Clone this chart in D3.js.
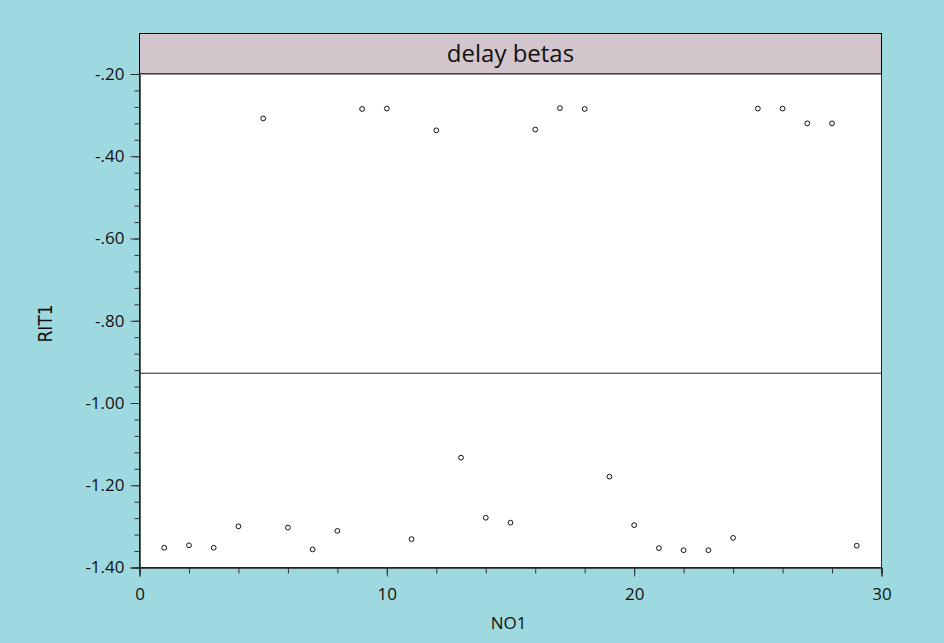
<!DOCTYPE html>
<html lang="en">
<head>
    <meta charset="UTF-8">
    <title>delay betas</title>
    <style>
        body { margin: 0; background: #9fd9e0; }
        svg { display: block; }
    </style>
</head>
<body>
    <div id="chart"></div>
    <script src="https://d3js.org/d3.v7.min.js"></script>
    <script>
        // NO1 values and RIT1 values
        var no1 = [1, 2, 3, 4, 5, 6, 7, 8, 9, 10, 11, 12, 13, 14, 15,
                   16, 17, 18, 19, 20, 21, 22, 23, 24, 25, 26, 27, 28, 29];
        var rit1 = [-1.352, -1.346, -1.352, -1.300, -0.308, -1.303, -1.356, -1.311, -0.285, -0.284,
                    -1.331, -0.337, -1.133, -1.279, -1.291, -0.335, -0.283, -0.285, -1.179, -1.297,
                    -1.353, -1.358, -1.358, -1.328, -0.284, -0.284, -0.320, -0.320, -1.347];
        var xTicks = [0, 10, 20, 30];
        var yTicks = [-0.2, -0.4, -0.6, -0.8, -1.0, -1.2, -1.4];
        var title = 'delay betas';

        var W = 944, H = 643;
        var plotL = 139.5, plotR = 881.5, plotT = 74, plotB = 567.5, headT = 33;

        var svg = d3.select('#chart').append('svg')
            .attr('width', W)
            .attr('height', H);

        svg.append('rect')
            .attr('width', W).attr('height', H)
            .attr('fill', '#9fd9e0');

        var x = d3.scaleLinear().domain([0, 30]).range([plotL, plotR]);
        var y = d3.scaleLinear().domain([-1.4, -0.2]).range([plotB, plotT]);

        // title strip
        svg.append('rect')
            .attr('x', plotL).attr('y', headT + 0.5)
            .attr('width', plotR - plotL).attr('height', plotT - headT - 0.5)
            .attr('fill', '#d2c5cc')
            .attr('stroke', '#000').attr('stroke-width', 1);
        svg.append('text')
            .attr('x', (plotL + plotR) / 2)
            .attr('y', 62)
            .attr('text-anchor', 'middle')
            .style('font-family', '"Open Sans", sans-serif')
            .style('font-size', '24px')
            .attr('fill', '#111')
            .text(title);

        // plot panel
        svg.append('rect')
            .attr('x', plotL).attr('y', plotT)
            .attr('width', plotR - plotL).attr('height', plotB - plotT)
            .attr('fill', '#fff')
            .attr('stroke', '#222').attr('stroke-width', 1);

        // "-.20", "-1.00" style labels with a plain hyphen
        var fmt = function(d) {
            var s = Math.abs(d).toFixed(2).replace(/^0\./, '.');
            return (d < 0 ? '-' : '') + s;
        };

        var styleText = function(g) {
            g.attr('font-size', null).attr('font-family', null);
            g.selectAll('text')
                .style('font-family', '"Open Sans", sans-serif')
                .style('font-size', '17px')
                .attr('fill', '#111');
        };

        // y axis: minor then major ticks
        svg.append('g')
            .attr('transform', 'translate(' + plotL + ',0)')
            .call(d3.axisLeft(y).tickValues(d3.range(-1.4, -0.199, 0.04)).tickSize(5).tickFormat(''));
        svg.append('g')
            .attr('transform', 'translate(' + plotL + ',0)')
            .call(d3.axisLeft(y).tickValues(yTicks).tickSize(9).tickPadding(6).tickFormat(fmt))
            .call(styleText);

        // x axis
        svg.append('g')
            .attr('transform', 'translate(0,' + plotB + ')')
            .call(d3.axisBottom(x).tickValues(d3.range(0, 31, 2)).tickSize(6).tickFormat(''));
        svg.append('g')
            .attr('transform', 'translate(0,' + plotB + ')')
            .call(d3.axisBottom(x).tickValues(xTicks).tickSize(9).tickPadding(11).tickFormat(d3.format('d')))
            .call(styleText);

        svg.selectAll('.domain').attr('stroke', '#222');
        svg.selectAll('.tick line').attr('stroke', '#333');

        // mean reference line
        var mean = d3.mean(rit1);
        svg.append('line')
            .attr('x1', plotL).attr('x2', plotR)
            .attr('y1', y(mean)).attr('y2', y(mean))
            .attr('stroke', '#222').attr('stroke-width', 1);

        // axis titles
        svg.append('text')
            .attr('x', (plotL + plotR) / 2 - 2)
            .attr('y', 629)
            .attr('text-anchor', 'middle')
            .style('font-family', '"Open Sans", sans-serif')
            .style('font-size', '17px')
            .attr('fill', '#111')
            .text('NO1');
        svg.append('text')
            .attr('transform', 'translate(52,323.5) rotate(-90)')
            .attr('text-anchor', 'middle')
            .style('font-family', '"Liberation Sans Narrow", "DejaVu Sans Condensed", "Liberation Sans", sans-serif')
            .style('font-size', '19px')
            .attr('fill', '#111')
            .text('RIT1');

        // points
        svg.append('g')
            .selectAll('circle')
            .data(no1)
            .enter()
            .append('circle')
                .attr('cx', function(d) { return x(d); })
                .attr('cy', function(d, i) { return y(rit1[i]); })
                .attr('r', 2.4)
                .attr('fill', '#fff')
                .attr('stroke', '#111')
                .attr('stroke-width', 1);
    </script>
</body>
</html>
